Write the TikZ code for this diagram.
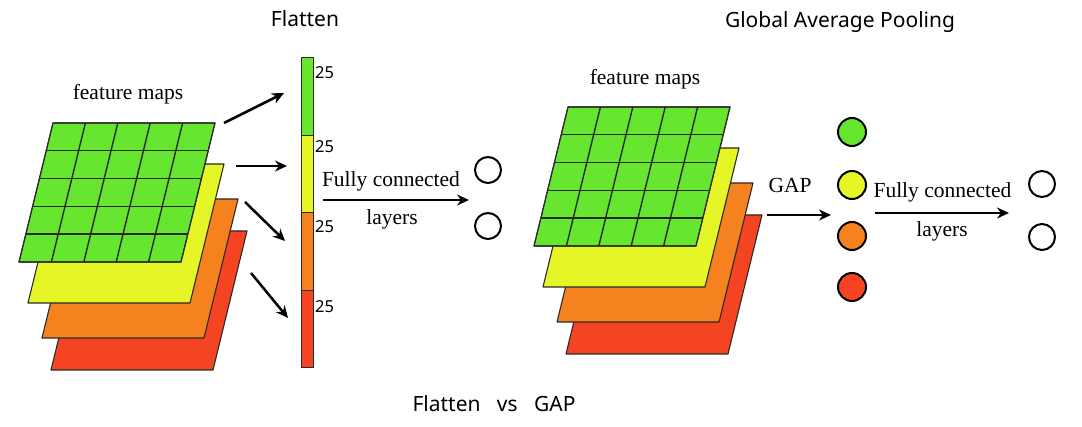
\documentclass[tikz,border=0pt]{standalone}
\usepackage{fontspec}
\setmainfont{Liberation Serif}
\newfontfamily\ko{Noto Sans}
\usetikzlibrary{arrows.meta}
\definecolor{cgreen}{HTML}{66E62E}
\definecolor{cyellow}{HTML}{E6F526}
\definecolor{corange}{HTML}{F5821F}
\definecolor{cred}{HTML}{F54422}
\definecolor{edge}{HTML}{2A2A2A}
\tikzset{
  layer/.style={draw=edge, line width=1.1pt, line join=round},
  grid/.style={draw=edge, line width=1.4pt},
  arr/.style={draw=black, line width=2.5pt, -{Stealth[length=12pt,width=11pt]}},
  serif/.style={font=\fontsize{21.5}{24}\selectfont, anchor=base},
  title/.style={font=\ko\fontsize{21}{24}\selectfont, anchor=base},
  num/.style={font=\ko\fontsize{16.5}{18}\selectfont, anchor=base west, inner sep=0pt},
  seg/.style={draw=edge, line width=1pt, minimum width=12pt, minimum height=77.5pt, inner sep=0pt},
  dot/.style={circle, draw=black, line width=2pt, minimum size=28pt, inner sep=0pt},
  outdot/.style={circle, draw=black, line width=2pt, minimum size=26pt, inner sep=0pt, fill=white}
}
\newcommand\mylayer[3]{%
  \filldraw[layer, fill=#3] (#1,#2) -- ++(162,0) -- ++(-34,139) -- ++(-162,0) -- cycle;}
\newcommand\mystack[2]{%
  \mylayer{#1+32}{#2+108}{cred}
  \mylayer{#1+23}{#2+76}{corange}
  \mylayer{#1+9}{#2+41}{cyellow}
  \mylayer{#1}{#2}{cgreen}
  \foreach \i in {1,...,4} {
    \draw[grid] (#1-34*\i/5,#2+139*\i/5) -- ++(162,0);
    \draw[grid] (#1+162*\i/5,#2) -- ++(-34,139);
  }
  \draw[layer] (#1,#2) -- ++(162,0) -- ++(-34,139) -- ++(-162,0) -- cycle;
}
\begin{document}
\begin{tikzpicture}[x=1pt,y=-1pt]
\useasboundingbox (0,0) rectangle (1082,427);
\fill[white] (0,0) rectangle (1082,427);

% titles
\node[title] (t1) at (305,27) {Flatten};
\node[title] (t2) at (840,28) {Global Average Pooling};
\node[title] (t3) at (494,412) {Flatten\ \ \ vs\ \ \ GAP};

% left stack
\mystack{53}{123}
\node[serif] (fm1) at (128,100) {feature maps};

% flatten bar
\node[seg, fill=cgreen]  (b1) at (307,96.75) {};
\node[seg, fill=cyellow] (b2) at (307,174.25) {};
\node[seg, fill=corange] (b3) at (307,251.75) {};
\node[seg, fill=cred]    (b4) at (307,329.25) {};
\node[num] (n1) at (315,79) {25};
\node[num] (n2) at (315,153) {25};
\node[num] (n3) at (315,233) {25};
\node[num] (n4) at (315,313) {25};

\coordinate (s1) at (224,123); \coordinate (e1) at (284,93);
\coordinate (s2) at (236,166); \coordinate (e2) at (287,166);
\coordinate (s3) at (245,202); \coordinate (e3) at (285,241);
\coordinate (s4) at (251,273); \coordinate (e4) at (288,318);
\draw[arr] (s1) -- (e1);
\draw[arr] (s2) -- (e2);
\draw[arr] (s3) -- (e3);
\draw[arr] (s4) -- (e4);

% left FC
\node[outdot] (o1) at (488,170) {};
\node[outdot] (o2) at (488,226) {};
\coordinate (fa) at (323,200); \coordinate (fb) at (469,200);
\draw[arr] (fa) -- (fb);
\node[serif] (fc1) at (391,187) {Fully connected};
\node[serif] (ly1) at (392,225) {layers};

% right stack
\mystack{568}{107}
\node[serif] (fm2) at (645,85) {feature maps};

% GAP
\coordinate (ga) at (767,215); \coordinate (gb) at (831,215);
\draw[arr] (ga) -- (gb);
\node[serif] (gap) at (790,193) {GAP};
\node[dot, fill=cgreen]  (c1) at (852,132) {};
\node[dot, fill=cyellow] (c2) at (852,185) {};
\node[dot, fill=corange] (c3) at (852,236) {};
\node[dot, fill=cred]    (c4) at (852,287) {};

% right FC
\coordinate (ra) at (875,213); \coordinate (rb) at (1009,213);
\draw[arr] (ra) -- (rb);
\node[serif] (fc2) at (942.5,198) {Fully connected};
\node[serif] (ly2) at (942,237) {layers};
\node[outdot] (p1) at (1042,184) {};
\node[outdot] (p2) at (1042,237) {};
\end{tikzpicture}
\end{document}
